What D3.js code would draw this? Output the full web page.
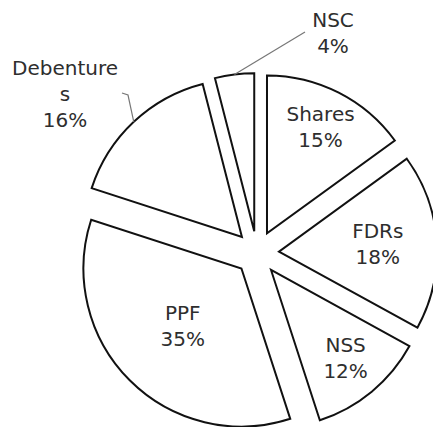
<!DOCTYPE html>
<html>
<head>
<meta charset="utf-8">
<script src="https://cdn.jsdelivr.net/npm/d3@7"></script>
<style>
  html, body { margin: 0; padding: 0; background: #fff; }
</style>
</head>
<body>
<div id="chart"></div>
<script>
const categories = ["Shares", "FDRs", "NSS", "PPF", "Debentures", "NSC"];
const shares = [15, 18, 12, 35, 16, 4];
// how the original wraps each label
const labelLines = {
  Shares: ["Shares"],
  FDRs: ["FDRs"],
  NSS: ["NSS"],
  PPF: ["PPF"],
  Debentures: ["Debenture", "s"],
  NSC: ["NSC"],
};

const width = 433;
const height = 427;
const cx = 257;
const cy = 253;
const radius = 158;
const explode = 22;
const fontSize = 20;
const lineHeight = 26;

// inside labels: distance from slice tip along the bisector
const insideRadius = { Shares: 118, FDRs: 99, NSS: 117, PPF: 83 };
// outside labels: first baseline + leader line
const outside = {
  NSC: { x: 333, y: 27, leader: [[305, 32]] },
  Debentures: { x: 65, y: 75, leader: [[128, 95], [122, 93]] },
};

const svg = d3.select("#chart")
  .append("svg")
  .attr("width", width)
  .attr("height", height)
  .style("background", "#fff");

const pie = d3.pie().sort(null).value(d => d.value);
const arc = d3.arc().innerRadius(0).outerRadius(radius);

const data = pie(categories.map((c, i) => ({ name: c, value: shares[i] })));

function tipOf(d) {
  const mid = (d.startAngle + d.endAngle) / 2;
  return [cx + explode * Math.sin(mid), cy - explode * Math.cos(mid)];
}

const slices = svg.selectAll("g.slice")
  .data(data)
  .join("g")
  .attr("class", "slice")
  .attr("transform", d => `translate(${tipOf(d)})`);

slices.append("path")
  .attr("d", arc)
  .attr("fill", "#fff")
  .attr("stroke", "#111")
  .attr("stroke-width", 2)
  .attr("stroke-linejoin", "miter");

function writeLabel(lines, x, y) {
  const t = svg.append("text")
    .attr("text-anchor", "middle")
    .attr("font-family", "DejaVu Sans, Verdana, sans-serif")
    .attr("font-size", fontSize)
    .attr("fill", "#2e2e2e");
  lines.forEach((s, i) => {
    t.append("tspan").attr("x", x).attr("y", y + i * lineHeight).text(s);
  });
}

data.forEach(d => {
  const name = d.data.name;
  const lines = labelLines[name].concat([d.data.value + "%"]);
  const [tx, ty] = tipOf(d);
  const mid = (d.startAngle + d.endAngle) / 2;
  if (outside[name]) {
    const o = outside[name];
    const start = [tx + radius * Math.sin(mid), ty - radius * Math.cos(mid)];
    svg.append("path")
      .attr("d", d3.line()([start].concat(o.leader)))
      .attr("fill", "none")
      .attr("stroke", "#777")
      .attr("stroke-width", 1.2);
    writeLabel(lines, o.x, o.y);
  } else {
    const r = insideRadius[name];
    const lx = tx + r * Math.sin(mid);
    const ly = ty - r * Math.cos(mid);
    writeLabel(lines, lx, ly - lineHeight / 2 + 7.3 - 2);
  }
});
</script>
</body>
</html>
